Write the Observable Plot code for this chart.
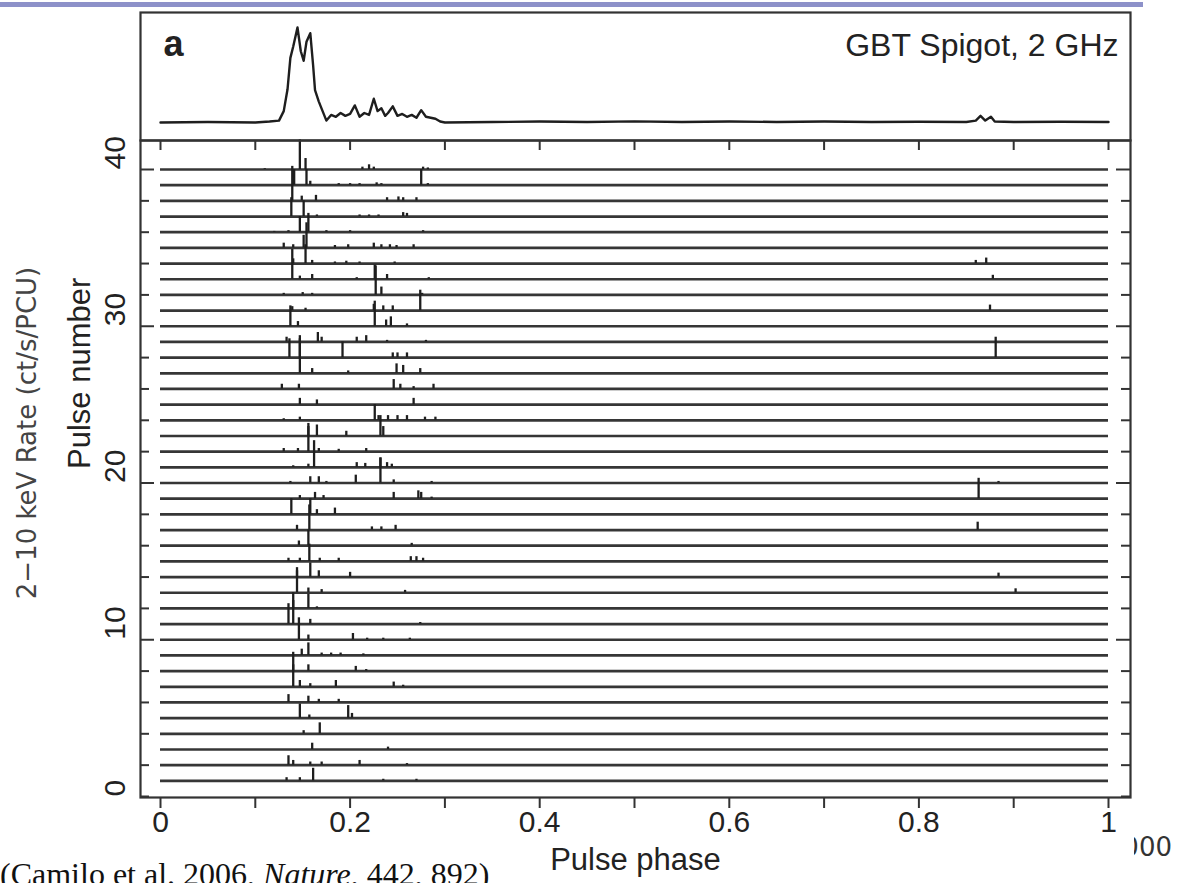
<!DOCTYPE html>
<html>
<head>
<meta charset="utf-8">
<script src="https://cdn.jsdelivr.net/npm/d3@7"></script>
<script src="https://cdn.jsdelivr.net/npm/@observablehq/plot@0.6"></script>
<style>
html,body{margin:0;padding:0;background:#fff;}
#stage{position:relative;width:1180px;height:883px;overflow:hidden;background:#fff;}
.abs{position:absolute;}
</style>
</head>
<body>
<div id="stage">
  <div class="abs" style="left:0;top:2px;width:1143px;height:5px;background:#8d91c9"></div>
  <div class="abs" style="left:1134px;top:832px;width:46px;height:32px;overflow:hidden">
    <div class="abs" style="right:8px;top:0;white-space:nowrap;font:26px 'DejaVu Sans',sans-serif;color:#333;line-height:30px">000</div>
  </div>
  <div class="abs" style="left:27px;top:433px;transform:translate(-50%,-50%) rotate(-90deg);white-space:nowrap;font:26px 'DejaVu Sans',sans-serif;color:#444;line-height:30px">2−10 keV Rate (ct/s/PCU)</div>
  <div class="abs" id="mainPanel" style="left:0;top:0"></div>
  <div class="abs" id="topPanel" style="left:0;top:0"></div>
  <div class="abs" style="left:0;top:858px;white-space:nowrap;font:32px 'Liberation Serif','Times New Roman',serif;color:#111;line-height:32px">(Camilo et al. 2006, <i>Nature</i>, 442, 892)</div>
</div>
<script>
// ---------- data ----------
const pulseNumbers = [1,2,3,4,5,6,7,8,9,10,11,12,13,14,15,16,17,18,19,20,21,22,23,24,25,26,27,28,29,30,31,32,33,34,35,36,37,38,39,40];
const xMinorTicks = [0,0.1,0.2,0.3,0.4,0.5,0.6,0.7,0.8,0.9,1];
const xLabels = [0,0.2,0.4,0.6,0.8,1];
const yMinorTicks = [0,2,4,6,8,12,14,16,18,22,24,26,28,32,34,36,38];
const yMajorTicks = [10,20,30,40];
const yLabels = [0,10,20,30,40];

// single pulses: [pulse number, pulse phase, spike height (in pulse units)]
const spikes = [
  [40,0.147,1.9],[40,0.153,0.7],[40,0.11,0.05],[40,0.213,0.15],[40,0.22,0.3],[40,0.225,0.15],[40,0.277,0.15],[40,0.282,0.1],
  [39,0.141,1.0],[39,0.154,1.0],[39,0.158,0.25],[39,0.188,0.1],[39,0.2,0.1],[39,0.21,0.1],[39,0.228,0.15],[39,0.233,0.1],[39,0.275,1.0],[39,0.282,0.1],
  [38,0.139,2.2],[38,0.149,0.3],[38,0.164,0.35],[38,0.239,0.2],[38,0.251,0.25],[38,0.256,0.2],[38,0.27,0.2],
  [37,0.138,1.2],[37,0.151,1.0],[37,0.165,0.1],[37,0.21,0.1],[37,0.22,0.1],[37,0.23,0.1],[37,0.256,0.25],[37,0.26,0.2],
  [36,0.147,1.0],[36,0.156,1.2],[36,0.12,0.05],[36,0.135,0.1],[36,0.175,0.1],[36,0.2,0.1],[36,0.277,0.1],
  [35,0.154,1.6],[35,0.151,0.8],[35,0.13,0.3],[35,0.14,0.2],[35,0.184,0.15],[35,0.198,0.2],[35,0.225,0.3],[35,0.233,0.2],[35,0.242,0.2],[35,0.249,0.15],[35,0.267,0.2],
  [34,0.153,1.2],[34,0.14,0.3],[34,0.16,0.2],[34,0.184,0.1],[34,0.196,0.15],[34,0.21,0.1],[34,0.247,0.1],[34,0.86,0.2],[34,0.871,0.35],
  [33,0.139,1.9],[33,0.147,0.2],[33,0.16,0.3],[33,0.207,0.1],[33,0.226,0.9],[33,0.239,0.3],[33,0.283,0.1],[33,0.878,0.25],
  [32,0.13,0.1],[32,0.15,0.15],[32,0.16,0.1],[32,0.227,1.85],[32,0.233,0.5],[32,0.276,0.1],
  [31,0.139,0.25],[31,0.153,0.15],[31,0.225,0.4],[31,0.235,0.3],[31,0.245,0.3],[31,0.274,1.3],[31,0.875,0.35],
  [30,0.137,1.3],[30,0.145,0.3],[30,0.226,1.6],[30,0.238,0.4],[30,0.243,0.6],[30,0.26,0.15],
  [29,0.133,0.3],[29,0.147,0.4],[29,0.166,0.6],[29,0.17,0.3],[29,0.207,0.3],[29,0.217,0.4],[29,0.239,0.1],[29,0.28,0.1],
  [28,0.136,1.2],[28,0.147,1.2],[28,0.192,1.0],[28,0.245,0.3],[28,0.25,0.3],[28,0.26,0.3],[28,0.881,1.3],
  [27,0.147,1.9],[27,0.16,0.3],[27,0.198,0.15],[27,0.249,0.6],[27,0.256,0.5],[27,0.274,0.3],
  [26,0.128,0.3],[26,0.146,0.3],[26,0.246,0.6],[26,0.253,0.3],[26,0.267,0.15],[26,0.288,0.3],
  [25,0.147,0.4],[25,0.165,0.3],[25,0.267,0.4],
  [24,0.13,0.1],[24,0.147,0.2],[24,0.226,1.0],[24,0.23,0.3],[24,0.24,0.3],[24,0.25,0.3],[24,0.26,0.3],[24,0.279,0.2],[24,0.29,0.2],
  [23,0.156,0.8],[23,0.165,0.7],[23,0.196,0.3],[23,0.232,1.3],[23,0.235,0.6],
  [22,0.13,0.2],[22,0.145,0.2],[22,0.156,1.6],[22,0.167,0.2],[22,0.188,0.15],[22,0.217,0.2],
  [21,0.14,0.1],[21,0.156,0.2],[21,0.162,1.7],[21,0.207,0.3],[21,0.216,0.25],[21,0.232,0.6],[21,0.239,0.3],[21,0.244,0.2],
  [20,0.137,0.1],[20,0.158,0.4],[20,0.167,0.4],[20,0.175,0.1],[20,0.206,0.5],[20,0.232,1.6],[20,0.246,0.2],[20,0.286,0.1],[20,0.884,0.1],
  [19,0.147,0.2],[19,0.163,0.4],[19,0.172,0.2],[19,0.246,0.4],[19,0.272,0.5],[19,0.275,0.4],[19,0.286,0.1],[19,0.863,1.3],
  [18,0.138,1.0],[18,0.158,1.0],[18,0.165,0.3],[18,0.184,0.4],
  [17,0.144,0.3],[17,0.157,1.6],[17,0.223,0.2],[17,0.233,0.2],[17,0.248,0.3],[17,0.862,0.5],
  [16,0.146,0.3],[16,0.156,1.0],[16,0.265,0.15],
  [15,0.135,0.2],[15,0.147,0.2],[15,0.157,1.1],[15,0.168,0.2],[15,0.188,0.2],[15,0.264,0.3],[15,0.27,0.3],[15,0.277,0.2],
  [14,0.144,0.4],[14,0.158,0.9],[14,0.167,0.4],[14,0.2,0.3],[14,0.884,0.25],
  [13,0.144,1.6],[13,0.156,0.3],[13,0.17,0.2],[13,0.258,0.15],[13,0.902,0.25],
  [12,0.14,1.0],[12,0.156,0.9],[12,0.165,0.1],
  [11,0.135,1.3],[11,0.14,1.5],[11,0.158,0.3],[11,0.274,0.1],
  [10,0.146,1.4],[10,0.156,0.3],[10,0.203,0.4],[10,0.218,0.1],[10,0.235,0.1],[10,0.263,0.1],
  [9,0.149,0.4],[9,0.156,0.8],[9,0.17,0.15],[9,0.18,0.15],[9,0.19,0.15],[9,0.214,0.1],
  [8,0.14,1.2],[8,0.156,0.4],[8,0.206,0.3],[8,0.217,0.1],
  [7,0.14,1.4],[7,0.147,0.4],[7,0.158,0.2],[7,0.185,0.4],[7,0.246,0.3],[7,0.256,0.1],
  [6,0.135,0.5],[6,0.156,0.4],[6,0.167,0.2],[6,0.188,0.2],
  [5,0.147,0.9],[5,0.157,0.2],[5,0.198,0.8],[5,0.202,0.3],
  [4,0.151,0.2],[4,0.168,0.7],
  [3,0.16,0.4],[3,0.24,0.15],
  [2,0.135,0.6],[2,0.14,0.3],[2,0.158,0.2],[2,0.17,0.2],[2,0.21,0.3],[2,0.26,0.1],
  [1,0.133,0.2],[1,0.147,0.2],[1,0.161,0.8],[1,0.235,0.1],[1,0.27,0.1]
];

// integrated profile (top panel), normalised to peak = 1
const profilePhase = [0,0.05,0.1,0.115,0.125,0.13,0.134,0.137,0.14,0.1445,0.148,0.151,0.154,0.158,0.161,0.163,0.167,0.171,0.175,0.18,0.185,0.19,0.195,0.2,0.205,0.21,0.215,0.22,0.225,0.229,0.233,0.237,0.24,0.245,0.25,0.255,0.26,0.265,0.27,0.275,0.28,0.285,0.29,0.295,0.3,0.35,0.4,0.45,0.5,0.55,0.6,0.65,0.7,0.75,0.8,0.85,0.86,0.865,0.87,0.876,0.88,0.9,0.95,1];
const profileValue = [0,0.005,0,0.01,0.02,0.12,0.35,0.68,0.8,1.0,0.75,0.65,0.85,0.94,0.6,0.34,0.22,0.12,0.02,0.08,0.06,0.1,0.07,0.09,0.18,0.06,0.1,0.08,0.25,0.12,0.15,0.07,0.1,0.17,0.07,0.09,0.06,0.08,0.05,0.13,0.06,0.05,0.04,0.01,0,0.005,0.01,0.005,0.012,0.005,0.01,0.006,0.01,0.005,0.008,0.005,0.02,0.07,0.02,0.06,0.01,0.005,0.008,0.005];
const profile = profilePhase.map((p, i) => ({phase: p, value: profileValue[i]}));

// ---------- chart ----------
const FONT = "'Liberation Sans', Arial, Helvetica, sans-serif";
const INK = "#222";
const frameW = 1130 - 140, frameH = 797 - 140;

const mainChart = Plot.plot({
  width: 1180, height: 883,
  marginLeft: 140, marginRight: 50, marginTop: 140, marginBottom: 86,
  x: {domain: [0, 1], range: [160, 1108], axis: null},
  y: {domain: [0, 40], range: [796, 169], axis: null},
  style: {background: "transparent", fontFamily: FONT, color: INK, overflow: "visible"},
  marks: [
    Plot.ruleY(pulseNumbers, {y: d => d, x1: 0, x2: 1, stroke: "#363636", strokeWidth: 2.7}),
    Plot.ruleX(spikes, {x: d => d[1], y1: d => d[0], y2: d => d[0] + d[2], stroke: "#1e1e1e", strokeWidth: 2.3}),
    Plot.frame({stroke: "#333", strokeWidth: 2.2}),
    Plot.tickX(xMinorTicks, {x: d => d, insetBottom: frameH - 10, stroke: "#333", strokeWidth: 2}),
    Plot.tickX(xMinorTicks, {x: d => d, insetTop: frameH, insetBottom: -11, stroke: "#333", strokeWidth: 2}),
    Plot.tickY(yMinorTicks, {y: d => d, insetRight: frameW - 9, stroke: "#333", strokeWidth: 2}),
    Plot.tickY(yMajorTicks, {y: d => d, insetRight: frameW - 14, stroke: "#333", strokeWidth: 2}),
    Plot.tickY(yMinorTicks, {y: d => d, insetLeft: frameW - 9, stroke: "#333", strokeWidth: 2}),
    Plot.tickY(yMajorTicks, {y: d => d, insetLeft: frameW - 14, stroke: "#333", strokeWidth: 2}),
    Plot.text(xLabels, {x: d => d, text: d => String(d), frameAnchor: "bottom", dy: 34, fontSize: 30, fill: INK}),
    Plot.text(yLabels, {y: d => d, text: d => String(d), frameAnchor: "left", dx: -25, rotate: -90, fontSize: 30, fill: INK}),
    Plot.text(["Pulse number"], {text: d => d, frameAnchor: "left", dx: -60, rotate: -90, fontSize: 31, fill: INK}),
    Plot.text(["Pulse phase"], {text: d => d, frameAnchor: "bottom", dy: 72, fontSize: 31, fill: INK})
  ]
});
document.getElementById("mainPanel").appendChild(mainChart);

const topChart = Plot.plot({
  width: 1180, height: 141,
  marginLeft: 140, marginRight: 50, marginTop: 12, marginBottom: 1,
  x: {domain: [0, 1], range: [160, 1108], axis: null},
  y: {domain: [0, 1], range: [122, 27], axis: null},
  style: {background: "transparent", fontFamily: FONT, color: INK, overflow: "visible"},
  marks: [
    Plot.frame({stroke: "#333", strokeWidth: 2.2}),
    Plot.line(profile, {x: "phase", y: "value", stroke: "#1e1e1e", strokeWidth: 2.4}),
    Plot.text(["a"], {text: d => d, frameAnchor: "top-left", dx: 23, dy: 18, fontSize: 36, fontWeight: "bold", fill: INK}),
    Plot.text(["GBT Spigot, 2 GHz"], {text: d => d, frameAnchor: "top-right", dx: -12, dy: 21, fontSize: 32, fill: INK})
  ]
});
document.getElementById("topPanel").appendChild(topChart);
</script>
</body>
</html>
